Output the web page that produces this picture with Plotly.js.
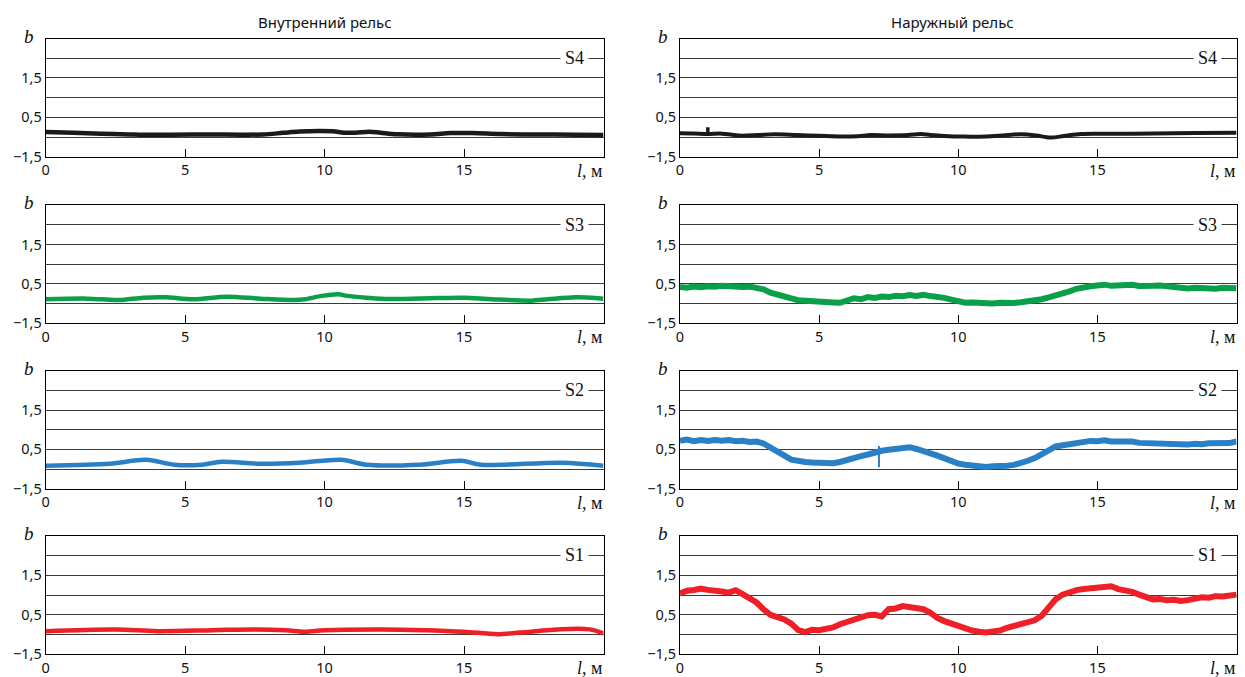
<!DOCTYPE html>
<html>
<head>
<meta charset="utf-8">
<script src="https://cdn.plot.ly/plotly-3.0.1.min.js"></script>
<style>html,body{margin:0;padding:0;background:#fff;}#chart{width:1245px;height:677px;}</style>
</head>
<body>
<div id="chart"></div>
<script>
// ---- Data (b in grid-level units; tick labels mapped via yTickText) ----
const columnTitles = ['Внутренний рельс', 'Наружный рельс'];
const sensorLabels = ['S4', 'S3', 'S2', 'S1'];
const xTickVals = [0, 5, 10, 15];
const yTickVals = [0, 1, 2, 3, 4, 5, 6];
const yTickText = ['−1,5', '', '0,5', '', '1,5', '', ''];

// Inner rail (smooth)
const s4InnerX = [0,1,2,3,3.5,4.5,6,7,7.8,8.5,9.1,9.8,10.3,10.7,11.1,11.6,12,12.6,13.8,14.5,15.3,16.3,17.5,19,20];
const s4InnerB = [1.25,1.22,1.17,1.13,1.11,1.12,1.13,1.12,1.13,1.21,1.28,1.31,1.29,1.22,1.22,1.27,1.22,1.14,1.13,1.2,1.2,1.15,1.13,1.12,1.1];
const s3InnerX = [0,1.5,2.6,3.5,4.3,5.3,6.5,7.7,8.9,9.3,9.9,10.5,10.8,11.5,12.3,14,15,16,17.4,18,19,20];
const s3InnerB = [1.22,1.25,1.18,1.3,1.32,1.22,1.35,1.25,1.18,1.22,1.39,1.47,1.39,1.3,1.23,1.28,1.3,1.22,1.15,1.22,1.32,1.25];
const s2InnerX = [0,2.3,3.6,4.6,5.6,6.3,7.7,9.1,10.6,11.5,13.4,14.9,15.6,18.5,20];
const s2InnerB = [1.17,1.27,1.47,1.22,1.22,1.37,1.27,1.32,1.47,1.22,1.22,1.42,1.22,1.32,1.17];
const s1InnerX = [0,2.5,4,6,7.5,8.6,9.3,10,12,13.6,15,16.2,17,18.5,19.5,20];
const s1InnerB = [1.17,1.26,1.17,1.22,1.26,1.22,1.14,1.22,1.26,1.22,1.14,1.02,1.1,1.27,1.26,1.06];

// Outer rail
const s4OuterX = [0,0.5,1,1.5,2.16,2.8,3.4,4.2,5,5.8,6.4,6.85,7.5,8.2,8.65,9,9.5,10.2,11,11.6,12.25,12.8,13.3,13.8,14.4,15.5,17,18.5,20];
const s4OuterB = [1.19,1.18,1.15,1.17,1.07,1.1,1.14,1.1,1.06,1.02,1.04,1.1,1.08,1.1,1.15,1.1,1.05,1.02,1.03,1.08,1.14,1.08,0.97,1.05,1.15,1.16,1.18,1.2,1.22];
const s4OuterSpikeX = [1.0, 1.0];
const s4OuterSpikeB = [1.15, 1.5];

const outerDist = [0,0.25,0.5,0.75,1,1.25,1.5,1.75,2,2.25,2.5,2.75,3,3.25,3.5,3.75,4,4.25,4.5,4.75,5,5.25,5.5,5.75,6,6.25,6.5,6.75,7,7.25,7.5,7.75,8,8.25,8.5,8.75,9,9.25,9.5,9.75,10,10.25,10.5,10.75,11,11.25,11.5,11.75,12,12.25,12.5,12.75,13,13.25,13.5,13.75,14,14.25,14.5,14.75,15,15.25,15.5,15.75,16,16.25,16.5,16.75,17,17.25,17.5,17.75,18,18.25,18.5,18.75,19,19.25,19.5,19.75,20];
const s3OuterB = [1.84,1.80,1.86,1.83,1.88,1.85,1.90,1.86,1.88,1.84,1.86,1.80,1.72,1.55,1.44,1.30,1.26,1.17,1.14,1.08,1.06,1.03,1.06,1.04,1.12,1.27,1.22,1.33,1.29,1.36,1.33,1.40,1.37,1.43,1.39,1.45,1.38,1.36,1.29,1.20,1.10,1.04,1.06,1.02,1.05,1.01,1.04,1.02,1.03,1.07,1.10,1.16,1.22,1.32,1.40,1.52,1.62,1.75,1.84,1.88,1.92,1.96,1.90,1.94,1.91,1.95,1.89,1.93,1.90,1.92,1.87,1.85,1.80,1.77,1.80,1.76,1.79,1.75,1.80,1.77,1.78];
const s2OuterB = [2.44,2.50,2.42,2.47,2.43,2.48,2.44,2.47,2.41,2.44,2.38,2.40,2.30,2.12,1.90,1.68,1.48,1.40,1.36,1.33,1.31,1.34,1.30,1.36,1.48,1.56,1.66,1.74,1.86,1.93,1.98,2.02,2.07,2.11,2.02,1.94,1.80,1.68,1.52,1.38,1.28,1.22,1.18,1.13,1.11,1.14,1.12,1.17,1.21,1.30,1.42,1.56,1.72,1.95,2.15,2.22,2.28,2.34,2.37,2.43,2.41,2.46,2.40,2.42,2.37,2.40,2.33,2.32,2.28,2.25,2.28,2.24,2.27,2.25,2.29,2.26,2.31,2.29,2.34,2.32,2.40];
const s2OuterSpikeX = [7.15, 7.15];
const s2OuterSpikeB = [1.09, 2.17];
const s1OuterB = [3.08,3.22,3.25,3.32,3.26,3.24,3.18,3.12,3.24,3.04,2.86,2.62,2.28,2.00,1.88,1.76,1.55,1.22,1.12,1.24,1.22,1.30,1.36,1.52,1.62,1.76,1.86,1.98,2.00,1.92,2.28,2.32,2.44,2.40,2.36,2.28,2.10,1.84,1.68,1.56,1.40,1.28,1.20,1.14,1.10,1.16,1.20,1.34,1.44,1.54,1.62,1.72,1.95,2.40,2.78,3.02,3.16,3.25,3.30,3.33,3.36,3.34,3.44,3.30,3.26,3.16,3.02,2.88,2.78,2.80,2.74,2.76,2.70,2.74,2.80,2.88,2.86,2.94,2.92,2.98,3.02];

const colors = {S4: '#1a1a1a', S3: '#0aa04a', S2: '#2a80c6', S1: '#ee1f26'};

// ---- Layout geometry ----
const W = 1245, H = 677;
const colDomains = [[45.7/W, 603.5/W], [680/W, 1236.5/W]];
const rowPx = [[38.5,156.7],[205,323.3],[370.7,488.7],[535.7,654.3]];
const rowDomains = rowPx.map(r => [1 - r[1]/H, 1 - r[0]/H]);

const sansFont = 'Noto Sans, Open Sans, sans-serif';
const serifFont = 'Liberation Serif, DejaVu Serif, serif';

const traces = [];
const layout = {
  width: W, height: H,
  margin: {l: 0, r: 0, t: 0, b: 0},
  paper_bgcolor: '#fff', plot_bgcolor: '#fff',
  showlegend: false,
  annotations: []
};

function axisId(row, col) { return row * 2 + col + 1; }

function addLine(row, col, x, y, color, width, smooth) {
  const n = axisId(row, col);
  traces.push({
    type: 'scatter', mode: 'lines', x: x, y: y,
    xaxis: 'x' + (n === 1 ? '' : n), yaxis: 'y' + (n === 1 ? '' : n),
    line: {color: color, width: width, shape: smooth ? 'spline' : 'linear', smoothing: 0.9},
    hoverinfo: 'skip'
  });
}

// Inner rail
addLine(0, 0, s4InnerX, s4InnerB, colors.S4, 4.5, true);
addLine(1, 0, s3InnerX, s3InnerB, colors.S3, 4.5, true);
addLine(2, 0, s2InnerX, s2InnerB, colors.S2, 4.5, true);
addLine(3, 0, s1InnerX, s1InnerB, colors.S1, 4.5, true);
// Outer rail
addLine(0, 1, s4OuterX, s4OuterB, colors.S4, 4, true);
addLine(0, 1, s4OuterSpikeX, s4OuterSpikeB, colors.S4, 3.5, false);
addLine(1, 1, outerDist, s3OuterB, colors.S3, 6, false);
addLine(2, 1, outerDist, s2OuterB, colors.S2, 6, false);
addLine(2, 1, s2OuterSpikeX, s2OuterSpikeB, colors.S2, 2, false);
addLine(3, 1, outerDist, s1OuterB, colors.S1, 6, false);

for (let row = 0; row < 4; row++) {
  for (let col = 0; col < 2; col++) {
    const n = axisId(row, col);
    const xa = 'xaxis' + (n === 1 ? '' : n);
    const ya = 'yaxis' + (n === 1 ? '' : n);
    const xr = 'x' + (n === 1 ? '' : n);
    const yr = 'y' + (n === 1 ? '' : n);
    layout[xa] = {
      domain: colDomains[col], anchor: yr, range: [0, 20],
      tickvals: xTickVals, ticks: 'inside', ticklen: 8, tickcolor: '#000', tickwidth: 1,
      showline: true, mirror: true, linecolor: '#000', linewidth: 1,
      showgrid: false, zeroline: false, fixedrange: true,
      tickfont: {family: sansFont, size: 14.5, color: '#111'}
    };
    layout[ya] = {
      domain: rowDomains[row], anchor: xr, range: [0, 6],
      tickvals: yTickVals, ticktext: yTickText, ticks: '',
      showline: true, mirror: true, linecolor: '#000', linewidth: 1,
      showgrid: true, gridcolor: '#3a3a3a', gridwidth: 1, zeroline: false, fixedrange: true,
      tickfont: {family: sansFont, size: 14.5, color: '#111'}
    };
    // "b" label
    layout.annotations.push({
      xref: xr + ' domain', yref: yr + ' domain', x: 0, y: 1,
      xanchor: 'right', yanchor: 'middle', xshift: -10, yshift: 2,
      text: '<i>b</i>', showarrow: false,
      font: {family: serifFont, size: 19, color: '#111'}
    });
    // "l, м" label
    layout.annotations.push({
      xref: xr + ' domain', yref: yr + ' domain', x: 1, y: 0,
      xanchor: 'right', yanchor: 'top', yshift: -2,
      text: '<i>l</i>, м', showarrow: false,
      font: {family: serifFont, size: 18, color: '#111'}
    });
    // Sensor label on gridline
    layout.annotations.push({
      xref: xr, yref: yr, x: 18.95, y: 5,
      xanchor: 'center', yanchor: 'middle',
      text: sensorLabels[row], showarrow: false,
      bgcolor: '#fff', borderpad: 4,
      font: {family: serifFont, size: 18, color: '#111'}
    });
  }
}

// Column titles
layout.annotations.push({
  xref: 'paper', yref: 'paper', x: (colDomains[0][0] + colDomains[0][1]) / 2, y: 1 - 22/H,
  xanchor: 'center', yanchor: 'middle', text: columnTitles[0], showarrow: false,
  font: {family: sansFont, size: 15, color: '#111'}
});
layout.annotations.push({
  xref: 'paper', yref: 'paper', x: (colDomains[1][0] + colDomains[1][1]) / 2 - 6/W, y: 1 - 22/H,
  xanchor: 'center', yanchor: 'middle', text: columnTitles[1], showarrow: false,
  font: {family: sansFont, size: 15, color: '#111'}
});

Plotly.newPlot('chart', traces, layout, {staticPlot: true, displayModeBar: false});
</script>
</body>
</html>
